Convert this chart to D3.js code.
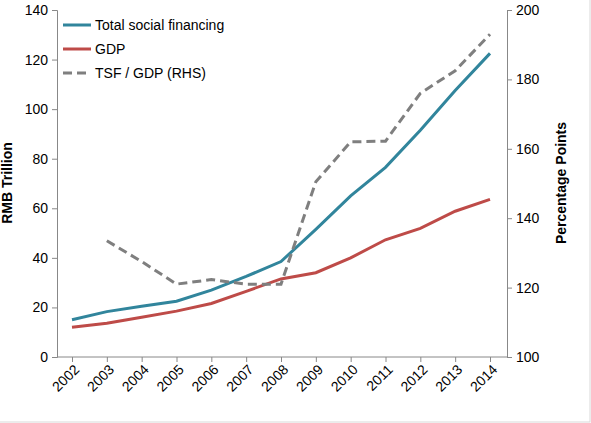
<!DOCTYPE html>
<html><head><meta charset="utf-8">
<script src="https://cdn.jsdelivr.net/npm/d3@7"></script>
<style>body{margin:0;background:#fff;font-family:Arial,"Liberation Sans",sans-serif}</style>
</head><body><div id="chart"></div>
<script>
var years = ["2002","2003","2004","2005","2006","2007","2008","2009","2010","2011","2012","2013","2014"];
var tsf = [15, 18.3, 20.5, 22.5, 27, 32.5, 38.5, 51.5, 65, 76.5, 91.5, 107.5, 122.5];
var gdp = [12, 13.6, 16, 18.5, 21.6, 26.5, 31.5, 34, 40, 47.3, 51.9, 58.8, 63.6];
var ratio = [null, 133.5, 127.5, 121, 122.3, 121, 121, 150.5, 162, 162.2, 176, 182.5, 193];
var leftTicks = [0, 20, 40, 60, 80, 100, 120, 140];
var rightTicks = [100, 120, 140, 160, 180, 200];

var W = 591, H = 423;
var svg = d3.select("#chart").append("svg").attr("width", W).attr("height", H);
svg.append("rect").attr("x", -1).attr("y", -1).attr("width", W).attr("height", H)
    .attr("fill", "none").attr("stroke", "#d9d9d9");

var x = d3.scalePoint().domain(years).range([72, 490]);
var yL = d3.scaleLinear().domain([0, 140]).range([357, 10]);
var yR = d3.scaleLinear().domain([100, 200]).range([357, 10]);

var axL = svg.append("g").attr("transform", "translate(57,0)")
    .call(d3.axisLeft(yL).tickValues(leftTicks).tickSize(5).tickPadding(4));
var axR = svg.append("g").attr("transform", "translate(507,0)")
    .call(d3.axisRight(yR).tickValues(rightTicks).tickSize(5).tickPadding(4));
var axB = svg.append("g").attr("transform", "translate(0,357)")
    .call(d3.axisBottom(x).tickSize(5).tickSizeOuter(0));
axB.select(".domain").attr("d", "M57,0H507");
[axL, axR, axB].forEach(function(a) {
    a.selectAll("path,line").attr("stroke", "#888");
    a.selectAll("text").attr("font-size", 14).attr("fill", "#000").attr("font-family", "Arial,'Liberation Sans',sans-serif");
});
axB.selectAll("text").attr("text-anchor", "end").attr("dx", "-0.3em").attr("dy", "0.5em")
    .attr("transform", "rotate(-45)");

svg.append("text").attr("transform", "translate(12,183) rotate(-90)").attr("text-anchor", "middle")
    .attr("font-size", 14).attr("font-weight", "bold").text("RMB Trillion");
svg.append("text").attr("transform", "translate(566,183) rotate(-90)").attr("text-anchor", "middle")
    .attr("font-size", 14).attr("font-weight", "bold").text("Percentage Points");

var line = function(y) {
    return d3.line().defined(function(d) { return d != null; })
        .x(function(d, i) { return x(years[i]); }).y(function(d) { return y(d); });
};
svg.append("path").attr("d", line(yL)(gdp)).attr("fill", "none").attr("stroke", "#be4b48").attr("stroke-width", 3);
svg.append("path").attr("d", line(yL)(tsf)).attr("fill", "none").attr("stroke", "#31859c").attr("stroke-width", 3);
svg.append("path").attr("d", line(yR)(ratio)).attr("fill", "none").attr("stroke", "#7f7f7f")
    .attr("stroke-width", 3).attr("stroke-dasharray", "9,5");

var legend = [["Total social financing", "#31859c", null], ["GDP", "#be4b48", null], ["TSF / GDP (RHS)", "#7f7f7f", "9,5"]];
legend.forEach(function(l, i) {
    var yy = 25 + i * 24;
    svg.append("line").attr("x1", 63).attr("x2", 91).attr("y1", yy).attr("y2", yy)
        .attr("stroke", l[1]).attr("stroke-width", 3).attr("stroke-dasharray", l[2]);
    svg.append("text").attr("x", 95).attr("y", yy + 5).attr("font-size", 14).text(l[0]);
});
</script></body></html>
